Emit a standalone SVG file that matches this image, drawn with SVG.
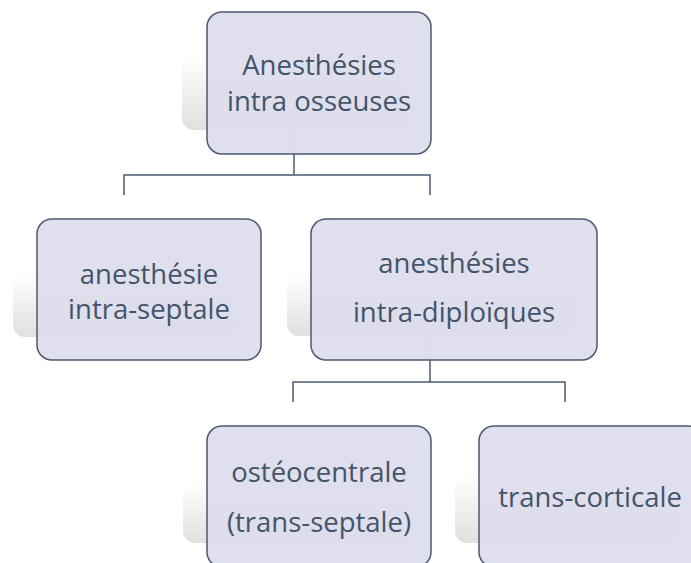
<svg xmlns="http://www.w3.org/2000/svg" width="691" height="563" viewBox="0 0 691 563">
<defs>
<linearGradient id="sh" x1="0" y1="0" x2="0" y2="1">
<stop offset="0" stop-color="#ffffff"/>
<stop offset="1" stop-color="#e0e0e0"/>
</linearGradient>
<style>
.shadow{fill:url(#sh)}
.box{fill:#dcdcec;fill-opacity:0.92;stroke:#4b5a70;stroke-width:1.5}
.conn{fill:none;stroke:#4b5a70;stroke-width:1.5}
.faint{stroke:#9aa3b8;stroke-width:1}
text{font-family:"Open Sans","Liberation Sans",sans-serif;font-size:27.5px;fill:#44546a;text-anchor:middle}
</style>
</defs>
<rect width="691" height="563" fill="#ffffff"/>
<g id="shadows">
<rect class="shadow" x="182" y="55" width="223" height="75" rx="12"/>
<rect class="shadow" x="13" y="273" width="222" height="64" rx="12"/>
<rect class="shadow" x="287" y="274" width="286" height="62" rx="12"/>
<rect class="shadow" x="183" y="483" width="224" height="60" rx="12"/>
<rect class="shadow" x="455" y="475" width="223" height="68" rx="12"/>
</g>
<g id="connectors">
<line class="faint" x1="294" y1="130" x2="294" y2="154"/>
<path class="conn" d="M294 154 V175 M124 195 V175 H430 V195"/>
<line class="faint" x1="430" y1="337" x2="430" y2="360"/>
<path class="conn" d="M430 360 V382 M293 402 V382 H565 V402"/>
</g>
<g id="n1">
<rect class="box" x="207" y="12" width="224" height="142" rx="15"/>
<text x="319" y="75">Anesthésies</text>
<text x="319" y="111">intra osseuses</text>
</g>
<g id="n2">
<rect class="box" x="37" y="219" width="224" height="141" rx="15"/>
<text x="149" y="284">anesthésie</text>
<text x="149" y="319">intra-septale</text>
</g>
<g id="n3">
<rect class="box" x="311" y="219" width="286" height="141" rx="15"/>
<text x="454" y="273">anesthésies</text>
<text x="454" y="322">intra-diploïques</text>
</g>
<g id="n4">
<rect class="box" x="207" y="426" width="224" height="141" rx="15"/>
<text x="319" y="482">ostéocentrale</text>
<text x="319" y="532">(trans-septale)</text>
</g>
<g id="n5">
<rect class="box" x="479" y="426" width="224" height="141" rx="15"/>
<text x="590" y="507">trans-corticale</text>
</g>
</svg>
